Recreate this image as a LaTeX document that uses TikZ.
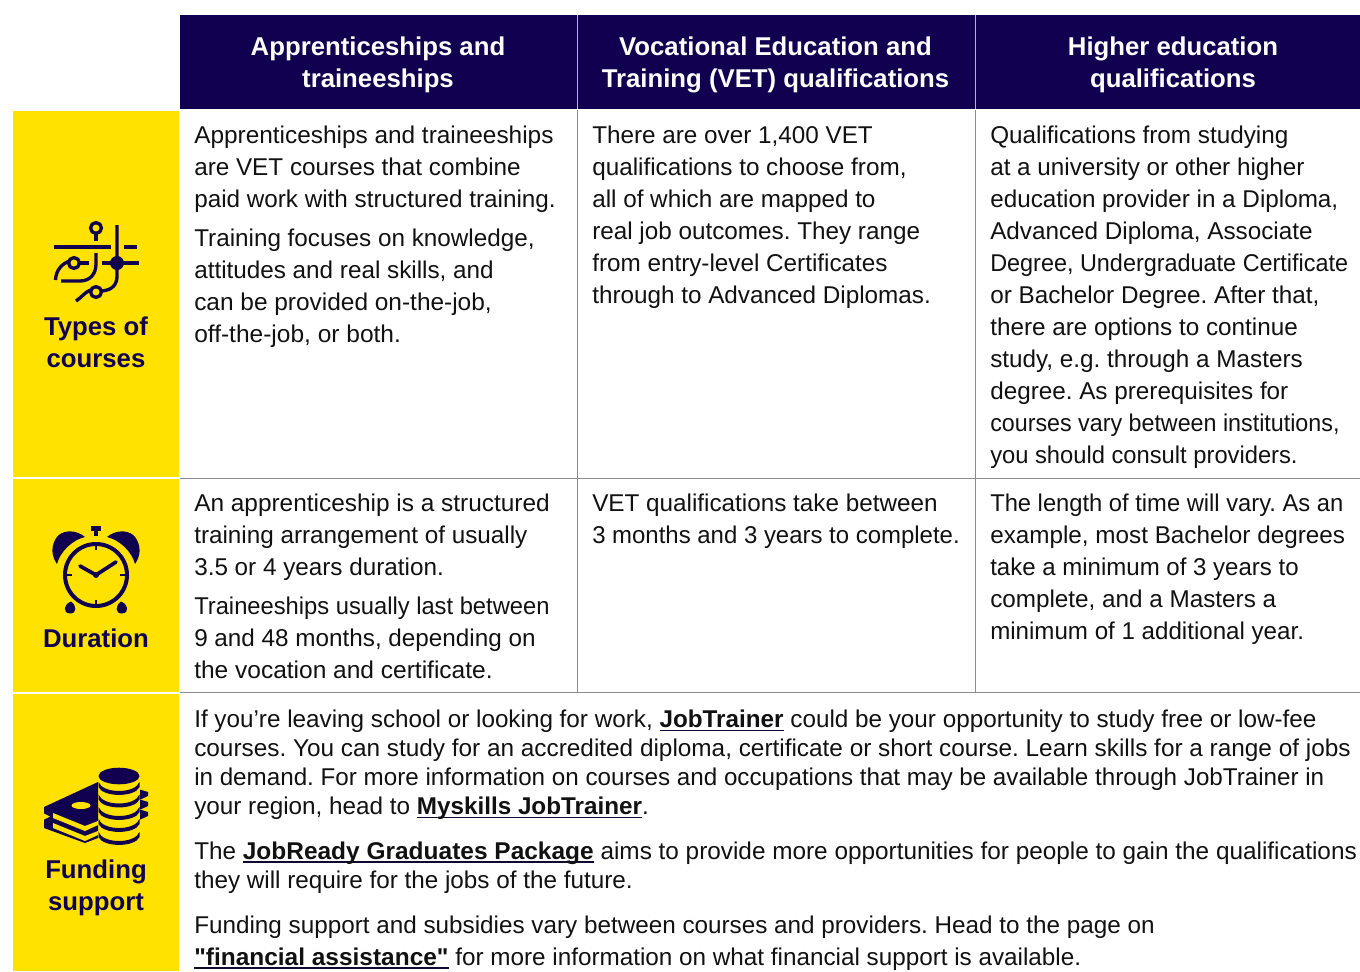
\documentclass[tikz,border=0pt]{standalone}
\usepackage{graphicx}
\usepackage{fontspec}
\setmainfont{Liberation Sans}[Ligatures=TeXOff]
\definecolor{navy}{HTML}{11004F}
\definecolor{yel}{HTML}{FFE200}
\definecolor{rulegrey}{HTML}{8C8C8C}
\definecolor{bodyink}{HTML}{111111}
\definecolor{linkink}{HTML}{100830}
\newsavebox{\lnkbox}
\newcommand{\lnk}[1]{\sbox{\lnkbox}{\textbf{#1}}{\color{linkink}\makebox[0pt][l]{\rule[-2.8pt]{\wd\lnkbox}{1.1pt}}\usebox{\lnkbox}}}
\newcommand{\hs}[2]{\scalebox{#1}[1]{#2}}
\tikzset{
  x=0.75pt,y=-0.75pt,
  body/.style={anchor=base west,inner sep=0pt,align=left,text=bodyink,font=\fontsize{18.2}{24}\selectfont\frenchspacing},
  wide/.style={anchor=base west,inner sep=0pt,align=left,text=bodyink,font=\fontsize{18.2}{21.75}\selectfont\frenchspacing},
  head/.style={anchor=center,inner sep=0pt,align=center,text=white,font=\fontsize{19.3}{24}\selectfont\bfseries},
  side/.style={anchor=center,inner sep=0pt,align=center,text=navy,font=\fontsize{19.3}{24}\selectfont\bfseries},
  gridline/.style={draw=rulegrey,line width=0.75pt},
  ico/.style={draw=navy,line width=2.5pt},
}
\begin{document}
\begin{tikzpicture}
\useasboundingbox (0,0) rectangle (1360,971);
% bands
\fill[navy] (180,15) rectangle (1360,109);
\fill[yel] (13,111) rectangle (179,477);
\fill[yel] (13,478.5) rectangle (179,692);
\fill[yel] (13,693.5) rectangle (179,971);
% grid
\draw[gridline] (180,478) -- (1360,478);
\draw[gridline] (180,692.5) -- (1360,692.5);
\draw[gridline] (577,110) -- (577,692);
\draw[gridline] (975,110) -- (975,692);
\draw[draw=white!70!navy,line width=0.75pt] (577,15) -- (577,109);
\draw[draw=white!70!navy,line width=0.75pt] (975,15) -- (975,109);
% headers
\node[head] (h1) at (378,65) {Apprenticeships and\\traineeships};
\node[head] (h2) at (775.5,65) {Vocational Education and\\Training (VET) qualifications};
\node[head] (h3) at (1173,65) {Higher education\\qualifications};
% sides
\node[side] (s1) at (96,342.5) {Types of\\courses};
\node[side] (s2) at (96,638.5) {Duration};
\node[side] (s3) at (96,888) {Funding\\support};
% row 1 (anchors are the baselines of the last lines)
\node[body] (a1) at (194,207) {\hs{1.005}{Apprenticeships and traineeships}\\are VET courses that combine\\paid work with structured training.};
\node[body] (a2) at (194,342) {Training focuses on knowledge,\\attitudes and real skills, and\\\hs{1.007}{can be provided on-the-job,}\\\hs{1.01}{off-the-job, or both.}};
\node[body] (b1) at (592,303) {There are over 1,400 VET\\qualifications to choose from,\\all of which are mapped to\\real job outcomes. They range\\from entry-level Certificates\\through to Advanced Diplomas.};
\node[body] (c1) at (990,463) {Qualifications from studying\\at a university or other higher\\education provider in a Diploma,\\Advanced Diploma, Associate\\\hs{0.965}{Degree, Undergraduate Certificate}\\or Bachelor Degree. After that,\\there are options to continue\\study, e.g. through a Masters\\degree. As prerequisites for\\\hs{0.959}{courses vary between institutions,}\\\hs{0.978}{you should consult providers.}};
% row 2
\node[body] (a3) at (194,575) {\hs{1.006}{An apprenticeship is a structured}\\training arrangement of usually\\3.5 or 4 years duration.};
\node[body] (a4) at (194,678) {\hs{0.978}{Traineeships usually last between}\\9 and 48 months, depending on\\\hs{1.01}{the vocation and certificate.}};
\node[body] (b2) at (592,543) {VET qualifications take between\\\hs{0.987}{3 months and 3 years to complete.}};
\node[body] (c2) at (990,639) {\hs{0.978}{The length of time will vary. As an}\\example, most Bachelor degrees\\\hs{0.99}{take a minimum of 3 years to}\\complete, and a Masters a\\\hs{0.994}{minimum of 1 additional year.}};
% row 3
\node[wide] (w1) at (194,814.5) {If you’re leaving school or looking for work, \lnk{JobTrainer} could be your opportunity to study free or low-fee\\\hs{1.0035}{courses. You can study for an accredited diploma, certificate or short course. Learn skills for a range of jobs}\\\hs{0.997}{in demand. For more information on courses and occupations that may be available through JobTrainer in}\\your region, head to \lnk{Myskills JobTrainer}.};
\node[wide] (w2) at (194,888) {The \hs{1.0086}{\lnk{JobReady Graduates Package}} \hs{1.003}{aims to provide more opportunities for people to gain the qualifications}\\they will require for the jobs of the future.};
\node[body] (w3) at (194,965) {Funding support and subsidies vary between courses and providers. Head to the page on\\\hs{1.008}{\lnk{"financial assistance"}} for more information on what financial support is available.};
% icon 1
\draw[ico] (54,247) -- (111,247);
\draw[ico] (124,247) -- (137,247);
\draw[ico] (96,228) circle (5.4);
\draw[ico] (96,234) -- (96,241);
\draw[ico] (117,225) -- (117,276) .. controls (117,285) and (112,290) .. (102,291);
\draw[ico] (102,263) -- (139,263);
\draw[ico] (96,253) -- (96,264) .. controls (96,274) and (90,281) .. (80,281) -- (61,281);
\draw[ico] (74,263) circle (5.4);
\draw[ico] (80,263) -- (89,263);
\draw[ico] (69,261) .. controls (62,264) and (56,270) .. (55.5,280);
\draw[ico] (96,292) circle (5.4);
\draw[ico] (90.5,290) .. controls (85,292) and (81,298) .. (76,301);
\fill[navy] (117,263) circle (7);
% icon 2
\fill[navy] (91,526) rectangle (101,531);
\fill[navy] (94,530) rectangle (98,536);
\fill[navy] (85,537) .. controls (76,529) and (60,529) .. (55,540) .. controls (50,550) and (53,558) .. (57,564) .. controls (60,552) and (72,540) .. (85,537) -- cycle;
\fill[navy] (107,537) .. controls (116,529) and (132,529) .. (137,540) .. controls (142,550) and (139,558) .. (135,564) .. controls (132,552) and (120,540) .. (107,537) -- cycle;
\draw[navy,line width=3pt] (96,575) circle (31);
\draw[navy,line width=2pt] (96,544) -- (96,550);
\draw[navy,line width=2pt] (96,600) -- (96,606);
\draw[navy,line width=2pt] (65,575) -- (72,575);
\draw[navy,line width=2pt] (120,575) -- (127,575);
\draw[navy,line width=2.8pt,line cap=round] (80,566) -- (96,575) -- (116,562);
\fill[navy] (96,575) circle (3);
\fill[navy] (71,601.5) .. controls (64,604) and (62,613) .. (70,613.5) .. controls (77,613.5) and (77,606) .. (71,601.5) -- cycle;
\fill[navy] (121,601.5) .. controls (128,604) and (130,613) .. (122,613.5) .. controls (115,613.5) and (115,606) .. (121,601.5) -- cycle;
% icon 3
\fill[navy] (98,782) -- (44,807) -- (44,828) -- (85,843) -- (98,838) -- cycle;
\fill[yel] (53,813) -- (85,826) -- (98,821) -- (98,825) -- (85,831) -- (53,818) -- cycle;
\fill[yel] (53,823) -- (85,836) -- (98,831) -- (98,835) -- (85,841) -- (53,828) -- cycle;
\fill[yel] (43,813) -- (50,816.5) -- (43,820) -- cycle;
\fill[navy] (135,788) -- (148,792) -- (148,796) -- (135,802) -- cycle;
\fill[navy] (135,798) -- (148,802) -- (148,806) -- (135,812) -- cycle;
\fill[navy] (135,808) -- (148,812) -- (148,816) -- (135,822) -- cycle;
\fill[yel] (81,805.5) ellipse (9.5 and 3.5);
\fill[yel] (98.5,776) rectangle (139.5,842);
\fill[yel] (119,842) ellipse (20.5 and 5);
\fill[navy] (119,776) ellipse (20.5 and 8.3);
\foreach \y in {792,804.5,817,829,842} {
  \fill[navy] (98.5,\y-10) .. controls (103,\y+2) and (135,\y+2) .. (139.5,\y-10) -- (139.5,\y-5) .. controls (135,\y+5.5) and (103,\y+5.5) .. (98.5,\y-5) -- cycle;
}
\end{tikzpicture}
\end{document}
